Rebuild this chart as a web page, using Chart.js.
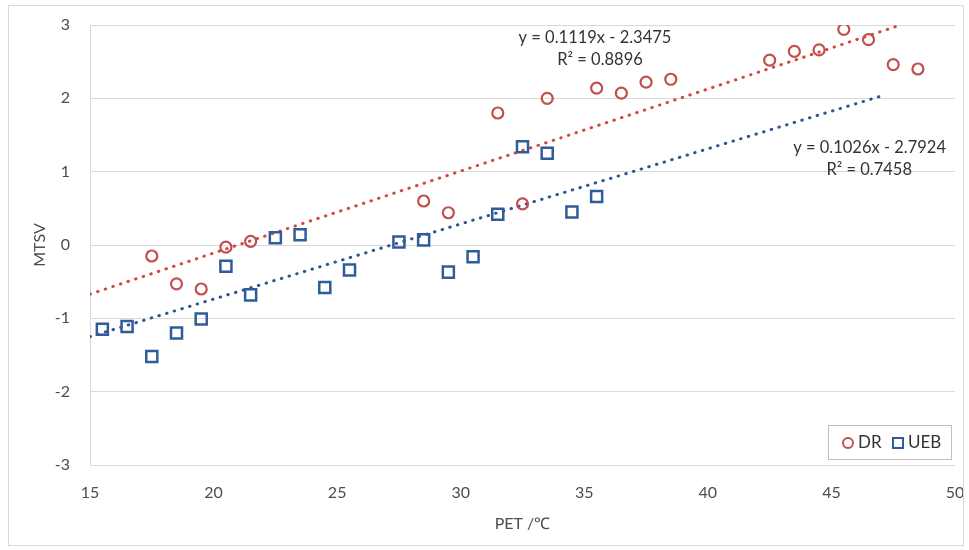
<!DOCTYPE html>
<html>
<head>
<meta charset="utf-8">
<script src="https://cdn.jsdelivr.net/npm/chart.js@4/dist/chart.umd.min.js"></script>
<style>
  html, body { margin: 0; padding: 0; background: #fff; }
  #wrap { width: 969px; height: 550px; position: relative; }
</style>
</head>
<body>
<div id="wrap"><canvas id="chart" width="969" height="550"></canvas></div>
<script>
// PET values and mean thermal sensation votes
const petDR = [17.5, 18.5, 19.5, 20.5, 21.5, 28.5, 29.5, 31.5, 32.5, 33.5, 35.5, 36.5, 37.5, 38.5, 42.5, 43.5, 44.5, 45.5, 46.5, 47.5, 48.5];
const mtsvDR = [-0.15, -0.53, -0.60, -0.03, 0.05, 0.60, 0.44, 1.80, 0.56, 2.00, 2.14, 2.07, 2.22, 2.26, 2.52, 2.64, 2.66, 2.94, 2.80, 2.46, 2.40];

const petUEB = [15.5, 16.5, 17.5, 18.5, 19.5, 20.5, 21.5, 22.5, 23.5, 24.5, 25.5, 27.5, 28.5, 29.5, 30.5, 31.5, 32.5, 33.5, 34.5, 35.5];
const mtsvUEB = [-1.15, -1.11, -1.52, -1.20, -1.01, -0.29, -0.68, 0.10, 0.14, -0.58, -0.34, 0.04, 0.07, -0.37, -0.16, 0.42, 1.34, 1.25, 0.45, 0.66];

// trend line end points
const trendXDR = [15, 47.8];
const trendYDR = [-0.67, 3.00];
const trendXUEB = [15, 47.2];
const trendYUEB = [-1.25, 2.05];

const seriesNames = ['DR', 'UEB'];
const eqDR = ['y = 0.1119x - 2.3475', 'R² = 0.8896'];
const eqUEB = ['y = 0.1026x - 2.7924', 'R² = 0.7458'];

const red = '#c0504d';
const blue = '#2f5d9b';
const textColor = '#4d4d4d';
const fontFamily = 'Lato, "Open Sans", sans-serif';

const toPts = (xs, ys) => xs.map((x, i) => ({ x: x, y: ys[i] }));

// equations, legend box and outer frame
const extras = {
  id: 'extras',
  afterDraw(chart) {
    const ctx = chart.ctx;
    ctx.save();
    ctx.strokeStyle = '#d9d9d9';
    ctx.lineWidth = 1;
    ctx.strokeRect(8.5, 5.5, 955, 540);

    ctx.fillStyle = '#333';
    ctx.font = '16.5px ' + fontFamily;
    ctx.textBaseline = 'middle';
    ctx.textAlign = 'center';
    ctx.fillText(eqDR[0], 595, 38);
    ctx.fillText(eqDR[1], 600, 60);
    ctx.textAlign = 'right';
    ctx.fillText(eqUEB[0], 946, 148);
    ctx.fillText(eqUEB[1], 912, 170);

    // legend
    ctx.fillStyle = '#fff';
    ctx.fillRect(828, 425, 123, 34);
    ctx.strokeStyle = '#bfbfbf';
    ctx.strokeRect(828.5, 425.5, 123, 34);
    ctx.lineWidth = 2;
    ctx.strokeStyle = red;
    ctx.beginPath();
    ctx.arc(848, 443, 5, 0, Math.PI * 2);
    ctx.stroke();
    ctx.strokeStyle = blue;
    ctx.strokeRect(893, 438, 10, 10);
    ctx.fillStyle = '#333';
    ctx.font = '17px ' + fontFamily;
    ctx.textAlign = 'left';
    ctx.fillText(seriesNames[0], 858, 443);
    ctx.fillText(seriesNames[1], 908, 443);
    ctx.restore();
  }
};

new Chart(document.getElementById('chart'), {
  type: 'scatter',
  data: {
    datasets: [
      {
        label: seriesNames[0],
        data: toPts(petDR, mtsvDR),
        pointStyle: 'circle',
        pointRadius: 5.5,
        pointBorderWidth: 2.2,
        pointBackgroundColor: 'rgba(255,255,255,0)',
        pointBorderColor: red
      },
      {
        label: seriesNames[1],
        data: toPts(petUEB, mtsvUEB),
        pointStyle: 'rect',
        pointRadius: 7.8,
        pointBorderWidth: 2.5,
        pointBackgroundColor: 'rgba(255,255,255,0)',
        pointBorderColor: blue
      },
      {
        type: 'line',
        label: 'DR trend',
        data: toPts(trendXDR, trendYDR),
        borderColor: '#d9453f',
        borderWidth: 3,
        borderDash: [0.5, 7.5],
        borderCapStyle: 'round',
        pointRadius: 0,
        fill: false
      },
      {
        type: 'line',
        label: 'UEB trend',
        data: toPts(trendXUEB, trendYUEB),
        borderColor: '#2f5597',
        borderWidth: 3,
        borderDash: [0.5, 7.5],
        borderCapStyle: 'round',
        pointRadius: 0,
        fill: false
      }
    ]
  },
  options: {
    responsive: false,
    animation: false,
    layout: { padding: { top: 25, right: 14, left: 0, bottom: 0 } },
    plugins: {
      legend: { display: false },
      tooltip: { enabled: false }
    },
    scales: {
      x: {
        type: 'linear',
        min: 15,
        max: 50,
        ticks: { stepSize: 5, color: textColor, font: { family: fontFamily, size: 16 }, padding: 0 },
        grid: { display: true, drawOnChartArea: false, drawTicks: true, tickLength: 18, tickColor: 'rgba(0,0,0,0)', color: 'rgba(0,0,0,0)' },
        border: { display: false },
        title: { display: true, text: 'PET /℃', color: textColor, font: { family: fontFamily, size: 16 }, padding: { top: 10, bottom: 17 } },
        afterFit(scale) { scale.height = 85; }
      },
      y: {
        min: -3,
        max: 3,
        ticks: { stepSize: 1, color: textColor, font: { family: fontFamily, size: 16 }, padding: 0 },
        grid: { color: '#d9d9d9', lineWidth: 1, drawTicks: true, tickLength: 20, tickColor: 'rgba(0,0,0,0)' },
        border: { display: true, color: '#d9d9d9' },
        title: { display: true, text: 'MTSV', color: textColor, font: { family: fontFamily, size: 16 }, padding: { top: 30, bottom: 0 } },
        afterFit(scale) { scale.width = 90; }
      }
    }
  },
  plugins: [extras]
});
</script>
</body>
</html>
